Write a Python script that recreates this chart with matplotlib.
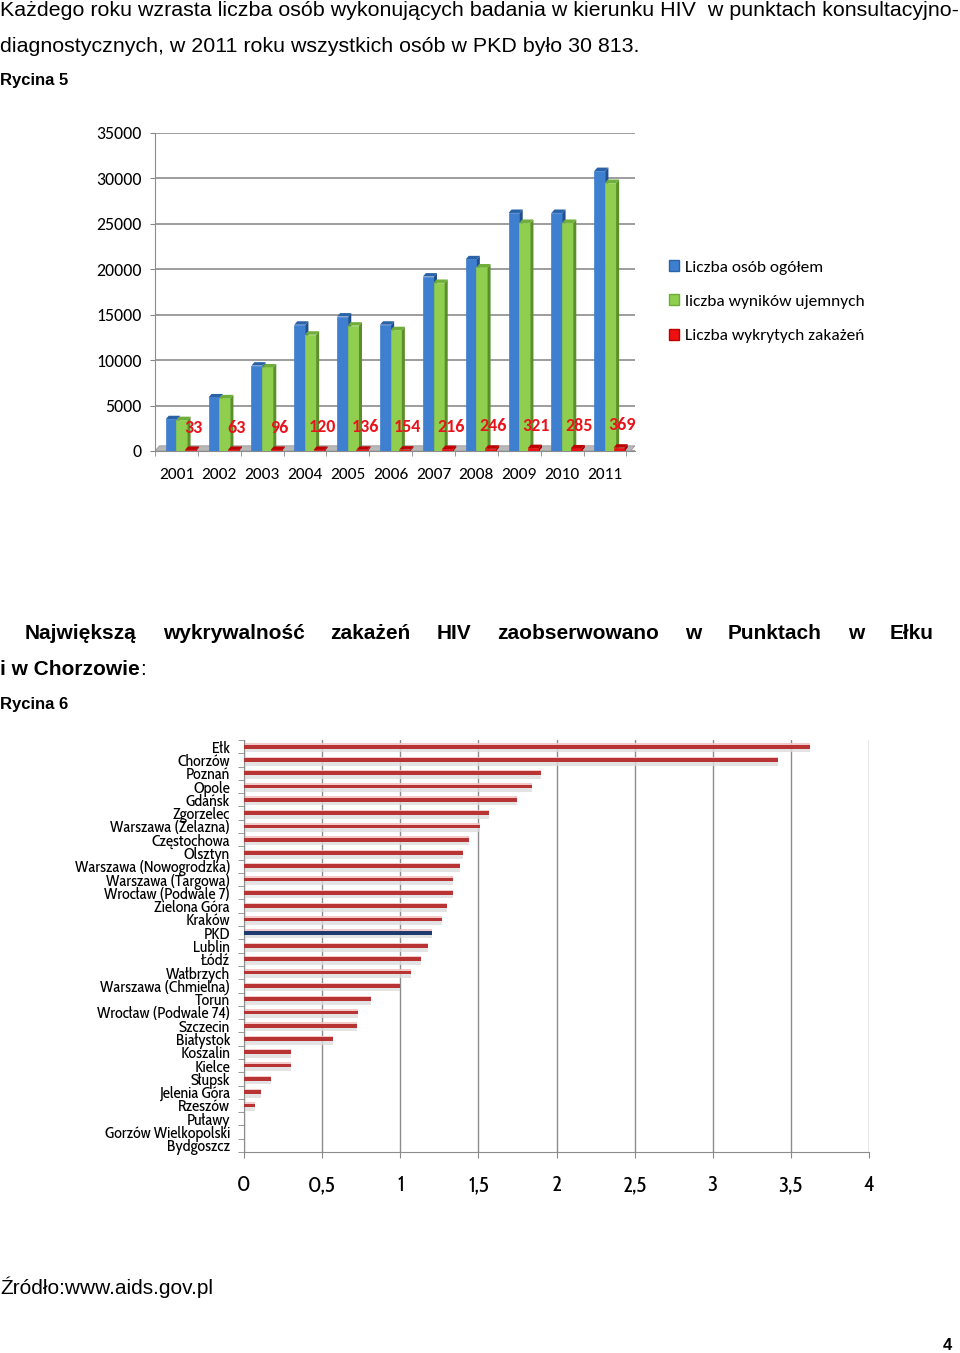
import matplotlib
matplotlib.use("Agg")
import matplotlib.pyplot as plt
from matplotlib.patches import Polygon, Patch
import numpy as np

# ---------------- data ----------------
years = ["2001", "2002", "2003", "2004", "2005", "2006", "2007", "2008", "2009", "2010", "2011"]
total_tested = [3500, 5900, 9400, 13900, 14800, 13900, 19200, 21100, 26200, 26200, 30813]
negative_results = [3400, 5800, 9200, 12800, 13800, 13300, 18500, 20200, 25100, 25100, 29500]
infections = [33, 63, 96, 120, 136, 154, 216, 246, 321, 285, 369]
series_labels = ["Liczba osób ogółem", "liczba wyników ujemnych", "Liczba wykrytych zakażeń"]
y_ticks_top = [0, 5000, 10000, 15000, 20000, 25000, 30000, 35000]

places = ["Ełk", "Chorzów", "Poznań", "Opole", "Gdańsk", "Zgorzelec", "Warszawa (Żelazna)",
          "Częstochowa", "Olsztyn", "Warszawa (Nowogrodzka)", "Warszawa (Targowa)",
          "Wrocław (Podwale 7)", "Zielona Góra", "Kraków", "PKD", "Lublin", "Łódź",
          "Wałbrzych", "Warszawa (Chmielna)", "Toruń", "Wrocław (Podwale 74)", "Szczecin",
          "Białystok", "Koszalin", "Kielce", "Słupsk", "Jelenia Góra", "Rzeszów",
          "Puławy", "Gorzów Wielkopolski", "Bydgoszcz"]
detection = [3.62, 3.42, 1.90, 1.84, 1.75, 1.57, 1.51, 1.44, 1.40, 1.38, 1.34, 1.34, 1.30,
             1.27, 1.20, 1.18, 1.13, 1.07, 1.00, 0.81, 0.73, 0.72, 0.57, 0.30, 0.30, 0.17,
             0.11, 0.07, 0.0, 0.0, 0.0]
x_ticks_bottom = [0, 0.5, 1, 1.5, 2, 2.5, 3, 3.5, 4]
x_ticklabels_bottom = ["0", "0,5", "1", "1,5", "2", "2,5", "3", "3,5", "4"]

# ---------------- figure ----------------
W, H = 960, 1353
fig = plt.figure(figsize=(W / 100, H / 100), dpi=100)
fig.patch.set_facecolor("white")

TXT = ["Liberation Sans", "DejaVu Sans"]
CAL = ["Carlito", "DejaVu Sans"]
NAR = ["Cabin Condensed", "Carlito", "DejaVu Sans"]


def fx(px):
    return px / W


def fy(py):
    return 1 - py / H


fig.text(fx(0), fy(11), "Każdego roku wzrasta liczba osób wykonujących badania w kierunku HIV  w punktach konsultacyjno-",
         family=TXT, fontsize=15.4, va="center", ha="left")
fig.text(fx(0), fy(46), "diagnostycznych, w 2011 roku wszystkich osób w PKD było 30 813.",
         family=TXT, fontsize=15.4, va="center", ha="left")
fig.text(fx(0), fy(80), "Rycina 5", family=TXT, fontsize=12, fontweight="bold", va="center", ha="left")

# ---------------- top chart ----------------
ax = fig.add_axes([fx(155), fy(451), fx(635) - fx(155), (451 - 133) / H])
x = np.arange(len(years))
bw = 0.26
dx, dy = 0.07, 380  # pseudo-3D depth


def bar3d(xc, val, face, side, top):
    b = ax.bar(xc, val, width=bw, color=face, edgecolor=face, linewidth=0.5, zorder=3)[0]
    x0, x1 = b.get_x(), b.get_x() + b.get_width()
    ax.add_patch(Polygon([[x1, 0], [x1 + dx, dy], [x1 + dx, val + dy], [x1, val]],
                         closed=True, facecolor=side, edgecolor="none", zorder=3))
    ax.add_patch(Polygon([[x0, val], [x0 + dx, val + dy], [x1 + dx, val + dy], [x1, val]],
                         closed=True, facecolor=top, edgecolor="none", zorder=3))


# floor
ax.add_patch(Polygon([[-0.5, 0], [-0.5 + dx * 1.5, dy * 1.5], [10.7, dy * 1.5], [10.7 - dx * 1.5, 0]],
                     closed=True, facecolor="#b8b8b8", edgecolor="#9a9a9a", linewidth=0.6, zorder=2))

for i in range(len(years)):
    bar3d(x[i] - 0.12, total_tested[i], "#3f7fcf", "#1f4f8f", "#2a62a8")
    bar3d(x[i] + 0.13, negative_results[i], "#8fce4f", "#5a8f2a", "#6fae38")
    bar3d(x[i] + 0.33, max(infections[i], 120), "#ee1111", "#a00000", "#c00000")
    ax.text(x[i] + 0.40, infections[i] + 1600, str(infections[i]), color="#e8141b",
            fontsize=13, fontweight="bold", family=CAL, ha="center", va="bottom", zorder=5)

ax.set_xlim(-0.5, 10.7)
ax.set_ylim(0, 35000)
ax.set_yticks(y_ticks_top)
ax.set_yticklabels([str(v) for v in y_ticks_top], family=CAL, fontsize=12.8)
ax.set_xticks(x)
ax.set_xticklabels(years, family=CAL, fontsize=12.5)
ax.set_xticks(np.arange(-0.5, 10.6, 1.0), minor=True)
ax.tick_params(axis="x", which="major", length=0, pad=12)
ax.tick_params(axis="x", which="minor", length=3.6, color="#888888")
ax.tick_params(axis="y", length=3.6, color="#888888", pad=6)
ax.grid(axis="y", color="#8c8c8c", linewidth=1.2, zorder=0)
for s in ["top", "right"]:
    ax.spines[s].set_visible(False)
ax.spines["left"].set_color("#8c8c8c")
ax.spines["bottom"].set_color("#8c8c8c")
ax.set_axisbelow(True)

handles = [Patch(facecolor="#3f7fcf", edgecolor="#2a62a8"),
           Patch(facecolor="#8fce4f", edgecolor="#6fae38"),
           Patch(facecolor="#ee1111", edgecolor="#c00000")]
fig.legend(handles, series_labels, loc="upper left", bbox_to_anchor=(fx(662), fy(253)),
           frameon=False, prop={"family": CAL, "size": 12.5}, labelspacing=1.14,
           handlelength=0.6, handleheight=0.6, handletextpad=0.35, borderaxespad=0)

# ---------------- middle text ----------------
words = ["Największą", "wykrywalność", "zakażeń", "HIV", "zaobserwowano", "w", "Punktach", "w", "Ełku"]
renderer = fig.canvas.get_renderer()
objs = [fig.text(0, fy(634), w_, family=TXT, fontsize=15, fontweight="bold", va="center", ha="left")
        for w_ in words]
widths = [o.get_window_extent(renderer).width for o in objs]
left, right = 25, 934
gap = (right - left - sum(widths)) / (len(words) - 1)
pos = left
for o, wd in zip(objs, widths):
    o.set_x(fx(pos))
    pos += wd + gap
t1 = fig.text(fx(0), fy(670), "i w Chorzowie", family=TXT, fontsize=15, fontweight="bold", va="center", ha="left")
wd = t1.get_window_extent(renderer).width
fig.text(fx(wd), fy(670), ":", family=TXT, fontsize=15, va="center", ha="left")
fig.text(fx(0), fy(704), "Rycina 6", family=TXT, fontsize=12, fontweight="bold", va="center", ha="left")

# ---------------- bottom chart ----------------
ax2 = fig.add_axes([fx(244), fy(1152), fx(869) - fx(244), (1152 - 740) / H])
yy = np.arange(len(places))
colors = ["#1f3a6e" if p == "PKD" else "#b83434" for p in places]
# soft shadow & highlight
ax2.barh(yy + 0.28, detection, height=0.28, color="#dcdcdc", alpha=0.8, zorder=2)
ax2.barh(yy - 0.18, detection, height=0.14, color="#f2c4c4", alpha=0.9, zorder=2)
ax2.barh(yy, detection, height=0.28, color=colors, zorder=3)

ax2.set_xlim(0, 4)
ax2.set_ylim(30.5, -0.5)
ax2.set_xticks(x_ticks_bottom)
ax2.set_xticklabels(x_ticklabels_bottom, family=NAR, fontsize=16)
ax2.set_yticks(yy)
ax2.set_yticklabels(places, family=NAR, fontsize=11.6)
ax2.set_yticks(np.arange(-0.5, 30.6, 0.5), minor=True)
ax2.tick_params(axis="y", which="major", length=0, pad=10)
ax2.tick_params(axis="y", which="minor", length=4, color="#888888")
ax2.tick_params(axis="x", length=4, color="#888888", pad=12)
ax2.grid(axis="x", color="#8c8c8c", linewidth=1.0, zorder=0)
ax2.set_axisbelow(True)
for s in ["top", "right"]:
    ax2.spines[s].set_visible(False)
ax2.spines["left"].set_color("#8c8c8c")
ax2.spines["bottom"].set_color("#8c8c8c")

fig.text(fx(0), fy(1287), "Źródło:www.aids.gov.pl", family=TXT, fontsize=15, va="center", ha="left")
fig.text(fx(952), fy(1345), "4", family=TXT, fontsize=12, fontweight="bold", va="center", ha="right")

fig.savefig("out.png", dpi=100, facecolor="white")
